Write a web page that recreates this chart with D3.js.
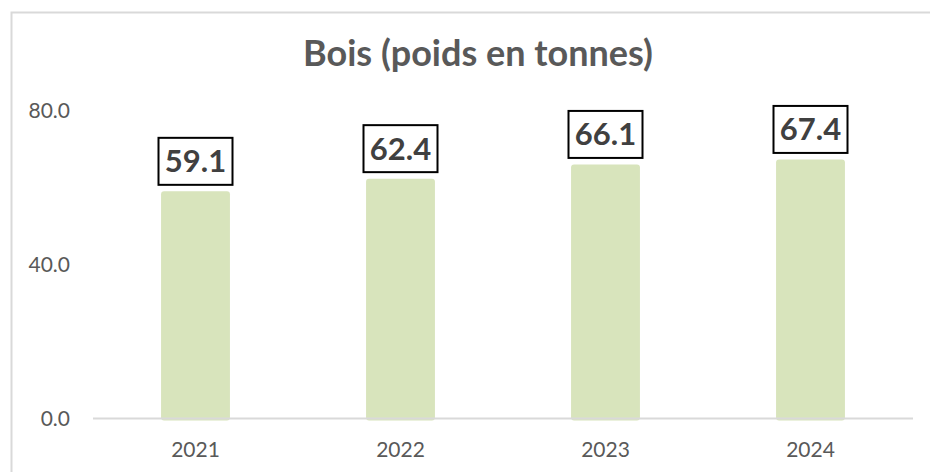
<!DOCTYPE html>
<html lang="fr">
<head>
<meta charset="utf-8" />
<title>Bois (poids en tonnes)</title>
<style>
  body { margin: 0; background: #ffffff; }
  svg { display: block; }
  .axis text { font-family: Lato, "Open Sans", sans-serif; font-size: 21px; fill: #595959; }
  .axis path, .axis line { display: none; }
  .label text { font-family: Lato, "Open Sans", sans-serif; font-weight: bold; font-size: 31px; fill: #404040; }
  .title { font-family: Lato, "Open Sans", sans-serif; font-weight: bold; font-size: 36px; fill: #595959; }
</style>
<script src="https://d3js.org/d3.v7.min.js"></script>
</head>
<body>
<svg width="930" height="472"></svg>
<script>
// chart data
var years = ["2021", "2022", "2023", "2024"];
var poids = [59.1, 62.4, 66.1, 67.4];
var yTicks = [0, 40, 80];
var titre = "Bois (poids en tonnes)";

var svg = d3.select("svg");

// chart frame (runs off the right and bottom of the picture)
svg.append("rect")
   .attr("x", 11.5).attr("y", 12.5)
   .attr("width", 940).attr("height", 480)
   .attr("fill", "none")
   .attr("stroke", "#d9d9d9")
   .attr("stroke-width", 2);

var plotLeft = 93, plotRight = 913, plotTop = 111, plotBottom = 418.5;

var x = d3.scaleBand().domain(years).range([plotLeft, plotRight]).paddingInner(0.664).paddingOuter(0.332);
var y = d3.scaleLinear().domain([0, 80]).range([plotBottom, plotTop]);

svg.append("text")
   .attr("class", "title")
   .attr("x", 478).attr("y", 66)
   .attr("text-anchor", "middle")
   .text(titre);

// y axis labels
svg.append("g")
   .attr("class", "axis")
   .attr("transform", "translate(" + (plotLeft - 14) + ",0)")
   .call(d3.axisLeft(y).tickValues(yTicks).tickSize(0).tickPadding(9).tickFormat(d3.format(".1f")));

// x axis labels
svg.append("g")
   .attr("class", "axis")
   .attr("transform", "translate(0," + (plotBottom + 18) + ")")
   .call(d3.axisBottom(x).tickSize(0).tickPadding(6));

// bars
svg.selectAll(".bar")
   .data(years)
   .enter().append("rect")
   .attr("class", "bar")
   .attr("x", function(d) { return x(d); })
   .attr("y", function(d, i) { return y(poids[i]); })
   .attr("width", x.bandwidth())
   .attr("height", function(d, i) { return plotBottom - y(poids[i]) + 2; })
   .attr("rx", 3)
   .attr("fill", "#d8e4bc");

// baseline
svg.append("line")
   .attr("x1", plotLeft).attr("x2", plotRight)
   .attr("y1", plotBottom).attr("y2", plotBottom)
   .attr("stroke", "#d9d9d9")
   .attr("stroke-width", 2);

// boxed value labels
var lab = svg.selectAll(".label")
   .data(years)
   .enter().append("g")
   .attr("class", "label")
   .attr("transform", function(d, i) {
       return "translate(" + (x(d) + x.bandwidth() / 2) + "," + (y(poids[i]) - 30) + ")";
   });

lab.append("rect")
   .attr("x", -37).attr("y", -23.5)
   .attr("width", 74).attr("height", 47)
   .attr("fill", "#ffffff")
   .attr("stroke", "#000000")
   .attr("stroke-width", 2);

lab.append("text")
   .attr("text-anchor", "middle")
   .attr("dy", "0.35em")
   .text(function(d, i) { return d3.format(".1f")(poids[i]); });
</script>
</body>
</html>
